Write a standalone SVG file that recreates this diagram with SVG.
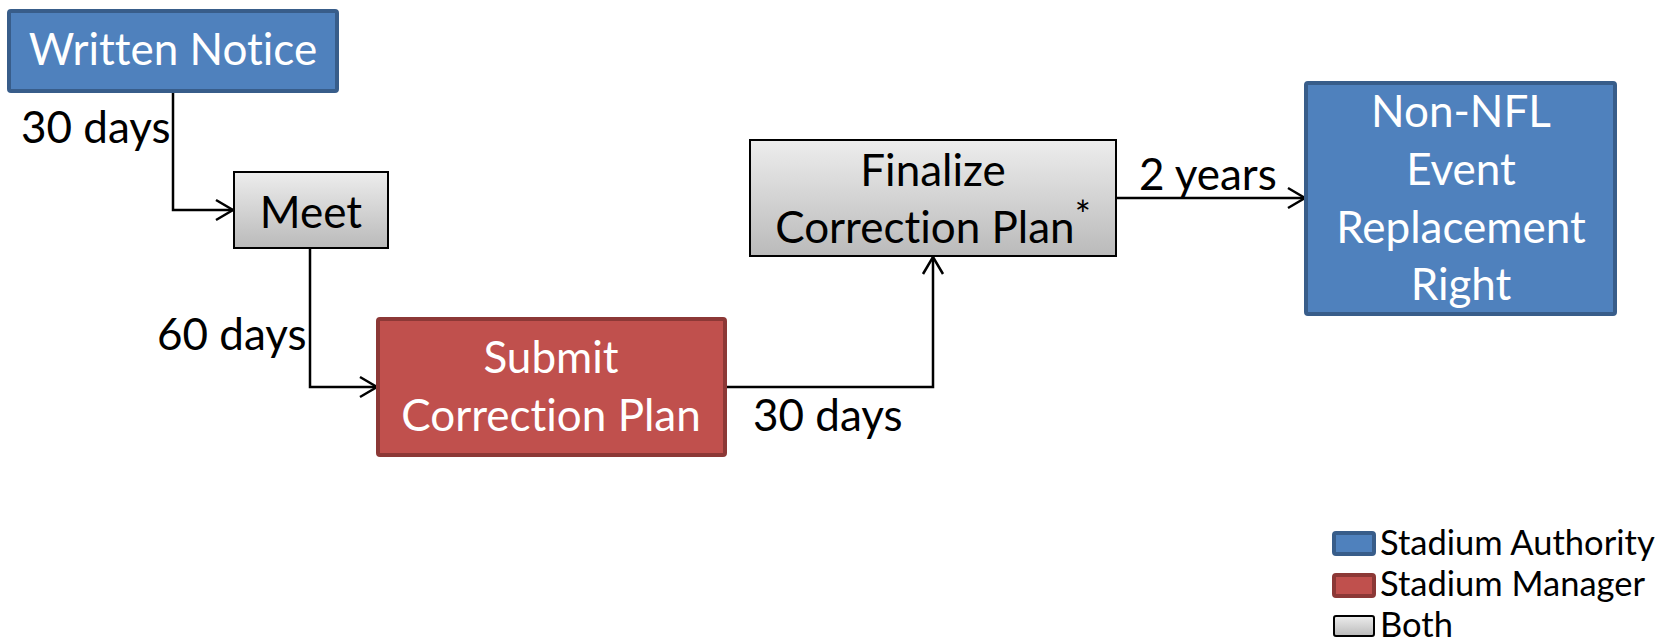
<svg xmlns="http://www.w3.org/2000/svg" width="1674" height="644" viewBox="0 0 1674 644">
<style>
text{font-family:Lato,"Liberation Sans",sans-serif;font-variant-ligatures:none;font-feature-settings:"liga" 0}
.t{font-size:44px;text-anchor:middle}
.w{fill:#fff}
.k{fill:#000}
.lbl{font-size:44px;fill:#000}
.leg{font-size:34.5px;fill:#000}
.blue{fill:#4f81bd;stroke:#385d8a;stroke-width:4}
.red{fill:#c0504d;stroke:#8c3836;stroke-width:4}
.gray{fill:url(#g);stroke:#000;stroke-width:2}
.c{fill:none;stroke:#000;stroke-width:2.5;marker-end:url(#a)}
</style>
<defs>
<linearGradient id="g" x1="0" y1="0" x2="0" y2="1">
<stop offset="0" stop-color="#ededed"/>
<stop offset="1" stop-color="#bababa"/>
</linearGradient>
<marker id="a" viewBox="-20 -12 22 24" refX="0" refY="0" markerWidth="22" markerHeight="24" markerUnits="userSpaceOnUse" orient="auto">
<path d="M-17,-10 L0,0 L-17,10" fill="none" stroke="#000" stroke-width="2.5"/>
</marker>
</defs>
<rect width="1674" height="644" fill="#fff"/>
<g id="connectors">
<path class="c" d="M173,91 V210 H233"/>
<path class="c" d="M310,249 V387 H377"/>
<path class="c" d="M726,387 H933 V257"/>
<path class="c" d="M1116,198 H1305"/>
</g>
<g id="labels">
<text class="lbl" x="21" y="143">30 days</text>
<text class="lbl" x="157" y="350">60 days</text>
<text class="lbl" x="753" y="431">30 days</text>
<text class="lbl" x="1139" y="190">2 years</text>
</g>
<g id="written-notice">
<rect class="blue" x="9" y="11" width="328" height="80" rx="2"/>
<text class="t w" x="173" y="65">Written Notice</text>
</g>
<g id="meet">
<rect class="gray" x="234" y="172" width="154" height="76"/>
<text class="t k" x="311" y="228">Meet</text>
</g>
<g id="submit">
<rect class="red" x="378" y="319" width="347" height="136" rx="2"/>
<text class="t w" x="551" y="373">Submit</text>
<text class="t w" x="551" y="431">Correction Plan</text>
</g>
<g id="finalize">
<rect class="gray" x="750" y="140" width="366" height="116"/>
<text class="t k" x="933" y="243">Correction Plan<tspan font-size="38" dy="-14">*</tspan></text>
<text class="t k" x="933" y="186">Finalize</text>
</g>
<g id="non-nfl">
<rect class="blue" x="1306" y="83" width="309" height="231" rx="2"/>
<text class="t w" x="1461" y="127">Non-NFL</text>
<text class="t w" x="1461" y="185">Event</text>
<text class="t w" x="1461" y="243">Replacement</text>
<text class="t w" x="1461" y="300">Right</text>
</g>
<g id="legend">
<rect class="blue" x="1334" y="533" width="40" height="21" rx="2" stroke-width="3"/>
<text class="leg" x="1380" y="555">Stadium Authority</text>
<rect class="red" x="1334" y="575" width="40" height="21" rx="2" stroke-width="3"/>
<text class="leg" x="1380" y="596">Stadium Manager</text>
<rect class="gray" x="1334" y="616" width="40" height="20" rx="2"/>
<text class="leg" x="1380" y="637">Both</text>
</g>
</svg>
